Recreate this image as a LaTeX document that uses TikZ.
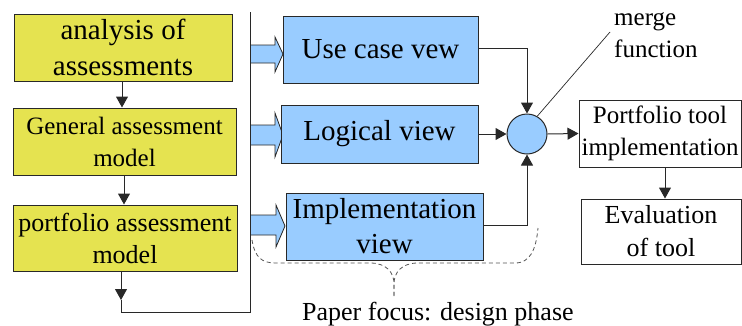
\documentclass[tikz,border=0pt]{standalone}
\usepackage{fontspec}
\setmainfont{Liberation Serif}
\usetikzlibrary{arrows.meta}
\definecolor{ybox}{RGB}{229,227,80}
\definecolor{bbox}{RGB}{153,204,255}
\definecolor{edge}{RGB}{40,40,40}
\begin{document}
\begin{tikzpicture}[x=1pt,y=-1pt,
  box/.style={draw=edge,line width=1pt,inner sep=0pt,align=center},
  ybx/.style={box,fill=ybox},
  bbx/.style={box,fill=bbox},
  wbx/.style={box,fill=white},
  conn/.style={draw=edge,line width=1pt},
  arr/.style={conn,-{Triangle[length=11pt,width=12pt]}},
  blockarr/.style={draw=edge,line width=0.8pt,fill=bbox,line join=miter},
  bracepath/.style={draw=edge!80,line width=0.8pt,dash pattern=on 4pt off 3pt}]
\useasboundingbox (0,0) rectangle (742,325);
% yellow column
\node[ybx,minimum width=218,minimum height=67,font=\fontsize{29}{36}\selectfont] (y1) at (123,47.5) {analysis of\\assessments};
\node[ybx,minimum width=223,minimum height=67,font=\fontsize{25}{32}\selectfont] (y2) at (124.5,141.5) {General assessment\\model};
\node[ybx,minimum width=224,minimum height=66,font=\fontsize{26}{32}\selectfont] (y3) at (125,238) {portfolio assessment\\model};
\draw[arr] (y1.south -| 122,0) -- (y2.north -| 122,0);
\draw[arr] (y2.south -| 124,0) -- (y3.north -| 124,0);
\coordinate (ytip) at (121,300);
\coordinate (ybot) at (121,312);
\coordinate (vbot) at (250,312);
\coordinate (vtop) at (250,12);
\draw[arr] (y3.south -| ytip) -- (ytip);
\draw[conn] (ytip) -- (ybot) -- (vbot) -- (vtop);
% block arrows
\draw[blockarr] (250,45) -- (275,45) -- (275,37) -- (283,54) -- (275,72) -- (275,63) -- (250,63);
\draw[blockarr] (250,125) -- (275,125) -- (275,113) -- (283,135) -- (275,157) -- (275,145) -- (250,145);
\draw[blockarr] (250,215) -- (276,215) -- (276,205) -- (285,226) -- (276,247) -- (276,235) -- (250,235);
\draw[conn] (vbot) -- (vtop);
% blue boxes
\node[bbx,minimum width=195,minimum height=67,font=\fontsize{29}{35}\selectfont] (b1) at (380.5,49.5) {Use case vew};
\node[bbx,minimum width=197,minimum height=58,font=\fontsize{29}{35}\selectfont] (b2) at (379.5,134) {Logical view};
\node[bbx,minimum width=197,minimum height=67,font=\fontsize{29}{35}\selectfont] (b3) at (384.5,226.5) {Implementation\\view};
% merge circle
\node[draw=edge,line width=1pt,fill=bbox,circle,minimum size=40,inner sep=0pt] (c) at (527,134) {};
\draw[arr] (b1.east |- 0,48) -| (c.north);
\draw[arr] (b2.east) -- (c.west);
\draw[arr] (b3.east |- 0,225) -| (c.south);
% right boxes
\node[wbx,minimum width=162,minimum height=67,font=\fontsize{25}{32}\selectfont] (p) at (660,133.5) {Portfolio tool\\implementation};
\node[wbx,minimum width=160,minimum height=65,font=\fontsize{26}{33}\selectfont] (e) at (661,231.5) {Evaluation\\of tool};
\draw[arr] (c.east) -- (p.west);
\draw[arr] (p.south -| 665,0) -- (e.north -| 665,0);
% merge function label
\node[anchor=north west,inner sep=0pt,align=left,font=\fontsize{25}{32}\selectfont] (mf) at (614,12) {merge\\function};
\coordinate (mfl) at (610,32);
\draw[draw=edge,line width=0.7pt] (c.60) -- (mfl);
% brace
\coordinate (btip) at (394,296);
\draw[bracepath] (252,240) .. controls (255,258) and (262,263) .. (276,263) -- (370,263) .. controls (386,263) and (394,272) .. (394,284) -- (btip);
\draw[bracepath] (btip) -- (394,284) .. controls (394,272) and (402,263) .. (418,263) -- (515,263) .. controls (530,263) and (536,250) .. (538,228);
\node[anchor=base west,inner sep=0pt,font=\fontsize{26}{30}\selectfont] (pf) at (302,320) {Paper focus: design phase};
\end{tikzpicture}
\end{document}
